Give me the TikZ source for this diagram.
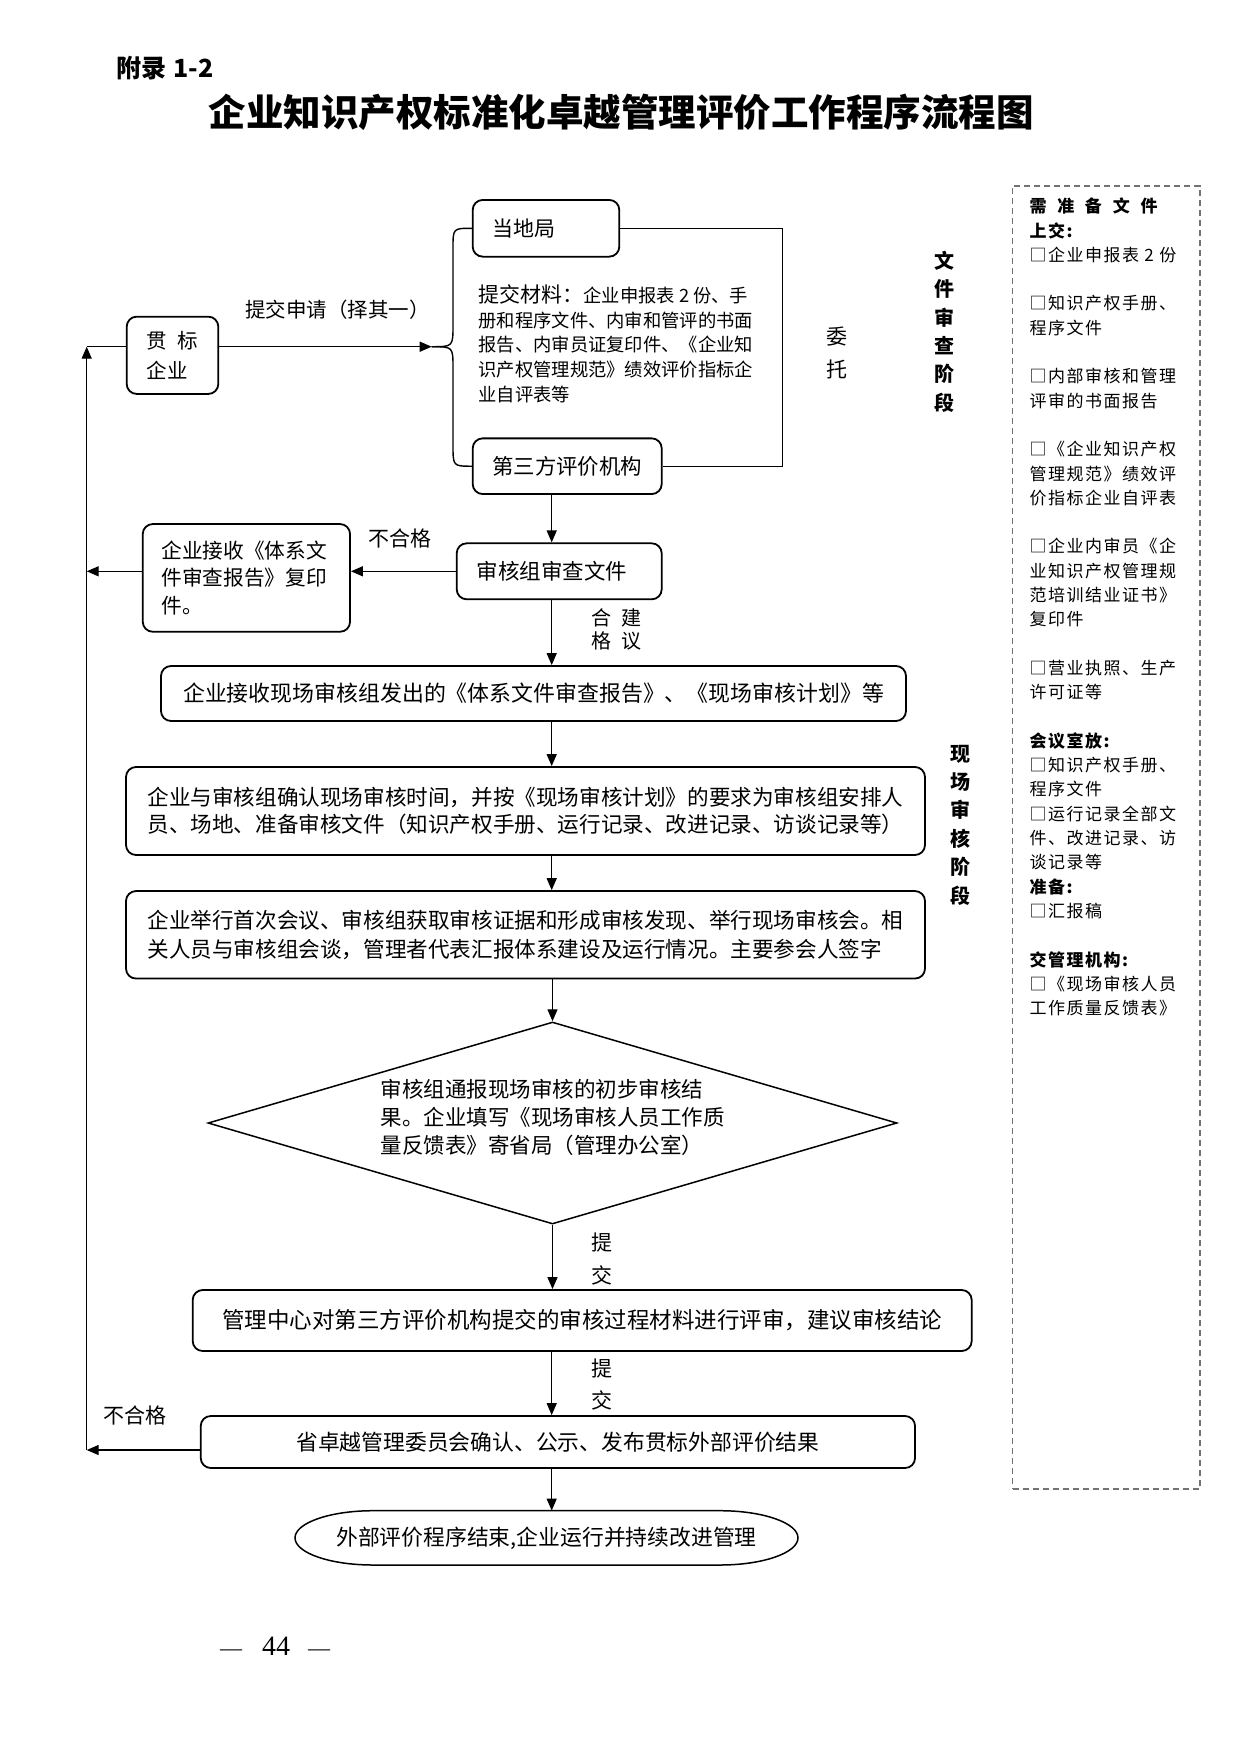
\documentclass[tikz,border=0pt]{standalone}
\usepackage{fontspec}
\setmainfont{Noto Sans CJK SC}
\newfontfamily\serifnum{Liberation Serif}
\newfontfamily\sidefont[LetterSpace=9]{Noto Sans CJK SC}
\usetikzlibrary{arrows.meta,shapes.geometric}
\newcommand\setfz[2]{\fontsize{#1}{#2}\selectfont}
\begin{document}
\begin{tikzpicture}[x=1pt,y=-1pt,
  box/.style={draw,line width=1.8pt,rounded corners=10pt,inner sep=0pt,align=center},
  ln/.style={line width=1.4pt},
  arr/.style={line width=1.4pt,-{Triangle[length=12pt,width=10pt]}},
  lbl/.style={inner sep=0pt,align=center},
]
\fill[white] (0,0) rectangle (1240,1754);
\useasboundingbox (0,0) rectangle (1240,1754);

% titles
\node[anchor=west,inner sep=0pt,font=\bfseries\setfz{25}{25}] (appx) at (116,68.5) {附录\hspace{7pt}1-2};
\node[inner sep=0pt,font=\bfseries\setfz{37.5}{37.5}] (title) at (621,112.5) {企业知识产权标准化卓越管理评价工作程序流程图};

% boxes
\node[box,minimum width=91.6pt,minimum height=77.3pt,font=\setfz{20.5}{29.7},align=left] (gb) at (172.5,355.3) {贯\hspace{11pt}标\\企业};
\node[box,minimum height=56.7pt,inner xsep=20pt,text width=106.6pt,align=left,font=\setfz{21}{21}] (dj) at (546,228.3) {当地局};
\node[box,minimum width=189pt,minimum height=55.7pt,font=\setfz{21.4}{21.4}] (dsf) at (567.2,466.2) {第三方评价机构};
\node[box,minimum height=56pt,inner xsep=20pt,text width=165pt,align=left,font=\setfz{21.5}{21.5}] (shz) at (559.2,571.3) {审核组审查文件};
\node[box,minimum height=107.7pt,inner xsep=18.65pt,text width=170pt,align=left,font=\setfz{20.7}{27.5}] (ejs) at (246.4,577.9) {企业接收《体系文\\件审查报告》复印\\件。};
\node[box,minimum width=745pt,minimum height=55pt,font=\setfz{21.9}{21.9}] (jsxc) at (533.5,693.5) {企业接收现场审核组发出的《体系文件审查报告》、《现场审核计划》等};
\node[box,minimum width=799pt,minimum height=88pt,font=\setfz{21.6}{27.5},align=left] (qr) at (525.5,811) {企业与审核组确认现场审核时间，并按《现场审核计划》的要求为审核组安排人\\员、场地、准备审核文件（知识产权手册、运行记录、改进记录、访谈记录等）};
\node[box,minimum width=799pt,minimum height=87.5pt,font=\setfz{21.6}{28.5},align=left] (jx) at (525.5,934.8) {企业举行首次会议、审核组获取审核证据和形成审核发现、举行现场审核会。相\\关人员与审核组会谈，管理者代表汇报体系建设及运行情况。主要参会人签字};
\node[draw,shape=diamond,line width=1.5pt,inner sep=0pt,aspect=3.4,minimum width=689pt,minimum height=202pt] (dia) at (552.5,1123) {};
\node[inner sep=0pt,font=\setfz{21.5}{28},align=left] (diatext) at (552.5,1117) {审核组通报现场审核的初步审核结\\果。企业填写《现场审核人员工作质\\量反馈表》寄省局（管理办公室）};
\node[box,minimum width=779pt,minimum height=61pt,font=\setfz{22.5}{22.5}] (gl) at (582.2,1320.5) {管理中心对第三方评价机构提交的审核过程材料进行评审，建议审核结论};
\node[box,minimum width=714.3pt,minimum height=52pt,font=\setfz{21.8}{21.8}] (sz) at (557.9,1442) {省卓越管理委员会确认、公示、发布贯标外部评价结果};
\node[inner sep=0pt,minimum width=503pt,minimum height=54.3pt,font=\setfz{21.8}{21.8}] (end) at (546.5,1537.9) {外部评价程序结束,企业运行并持续改进管理};
\draw[line width=1.5pt] (373,1510.7) -- (720,1510.7) .. controls (763.1,1510.7) and (798,1522.9) .. (798,1537.85) .. controls (798,1552.8) and (763.1,1565) .. (720,1565) -- (373,1565) .. controls (329.9,1565) and (295,1552.8) .. (295,1537.85) .. controls (295,1522.9) and (329.9,1510.7) .. (373,1510.7) -- cycle;

% materials text
\node[anchor=west,inner sep=0pt,align=left,font=\setfz{18.3}{24.6}] (mat) at (478.3,343.7) {{\setfz{21}{24.6}提交材料：}企业申报表 2 份、手\\册和程序文件、内审和管评的书面\\报告、内审员证复印件、《企业知\\识产权管理规范》绩效评价指标企\\业自评表等};

% labels
\node[lbl,font=\setfz{20.5}{20.5}] (sq) at (337.5,310) {提交申请（择其一）};
\node[lbl,font=\setfz{21}{32.6}] (wt) at (836.7,353) {委\\托};
\node[lbl,font=\bfseries\setfz{20}{28.4}] (st1) at (944,331.7) {文\\件\\审\\查\\阶\\段};
\node[lbl,font=\bfseries\setfz{20}{28.4}] (st2) at (960.6,825) {现\\场\\审\\核\\阶\\段};
\node[lbl,font=\setfz{21}{21}] (bhg1) at (400,538.3) {不合格};
\node[lbl,font=\setfz{20}{22.4}] (hgjy) at (616.7,629.5) {合\hspace{10pt}建\\格\hspace{10pt}议};
\node[lbl,font=\setfz{21}{33}] (tj1) at (601.7,1259.5) {提\\交};
\node[lbl,font=\setfz{21}{31.7}] (tj2) at (601.7,1384.2) {提\\交};
\node[lbl,font=\setfz{21}{21}] (bhg2) at (135,1415) {不合格};
\node[lbl,font=\serifnum\setfz{28}{28}] (pg) at (275,1646.7) {{\setfz{22}{22}—}\hspace{20pt}44\hspace{18pt}{\setfz{22}{22}—}};

% requirement box
\node[draw=black!55,dash pattern=on 6pt off 4pt,line width=1.2pt,minimum width=187.3pt,minimum height=1303pt,inner sep=0pt] (req) at (1106.35,837.5) {};
\node[anchor=west,inner sep=0pt,align=left,font=\sidefont\setfz{17}{24.3}] (reqtxt) at (1029.3,607) {%
{\bfseries\makebox[128pt][s]{需\hfill{}准\hfill{}备\hfill{}文\hfill{}件}}\\
{\bfseries 上交:}\\
□企业申报表 2 份\\[24.3pt]
□知识产权手册、\\
程序文件\\[24.3pt]
□内部审核和管理\\
评审的书面报告\\[24.3pt]
□《企业知识产权\\
管理规范》绩效评\\
价指标企业自评表\\[24.3pt]
□企业内审员《企\\
业知识产权管理规\\
范培训结业证书》\\
复印件\\[24.3pt]
□营业执照、生产\\
许可证等\\[24.3pt]
{\bfseries 会议室放:}\\
□知识产权手册、\\
程序文件\\
□运行记录全部文\\
件、改进记录、访\\
谈记录等\\
{\bfseries 准备:}\\
□汇报稿\\[24.3pt]
{\bfseries 交管理机构:}\\
□《现场审核人员\\
工作质量反馈表》};

% connectors
\coordinate (br) at (431.7,346.7);
\coordinate (colx) at (551.7,0);
\coordinate (rc) at (782.7,0);
\coordinate (L) at (86.7,0);
\coordinate (fb) at (86.7,1450);

\draw[arr] (gb.east |- br) -- (br);
\draw[ln] (dj.west) .. controls (453,228.3) .. (453,248) -- (453,325) .. controls (453,346.7) .. (br);
\draw[ln] (br) .. controls (453,346.7) .. (453,368) -- (453,445) .. controls (453,466.2) .. (dsf.west);
\draw[ln] (dj.east) -| (rc |- dsf.east) -- (dsf.east);

\draw[arr] (dsf.south -| colx) -- (shz.north -| colx);
\draw[arr] (shz.south -| colx) -- (jsxc.north -| colx);
\draw[arr] (jsxc.south -| colx) -- (qr.north -| colx);
\draw[arr] (qr.south -| colx) -- (jx.north -| colx);
\draw[arr] (jx.south -| dia.north) -- (dia.north);
\draw[arr] (dia.south) -- (gl.north -| dia.south);
\draw[arr] (gl.south -| colx) -- (sz.north -| colx);
\draw[arr] (sz.south -| colx) -- (end.north -| colx);

\draw[arr] (shz.west) -- (ejs.east |- shz.west);
\draw[arr] (ejs.west |- shz.west) -- (L |- shz.west);
\draw[arr] (sz.west |- fb) -- (fb);
\draw[arr] (fb) -- (L |- br);
\draw[ln] (L |- br) -- (gb.west |- br);
\end{tikzpicture}
\end{document}
